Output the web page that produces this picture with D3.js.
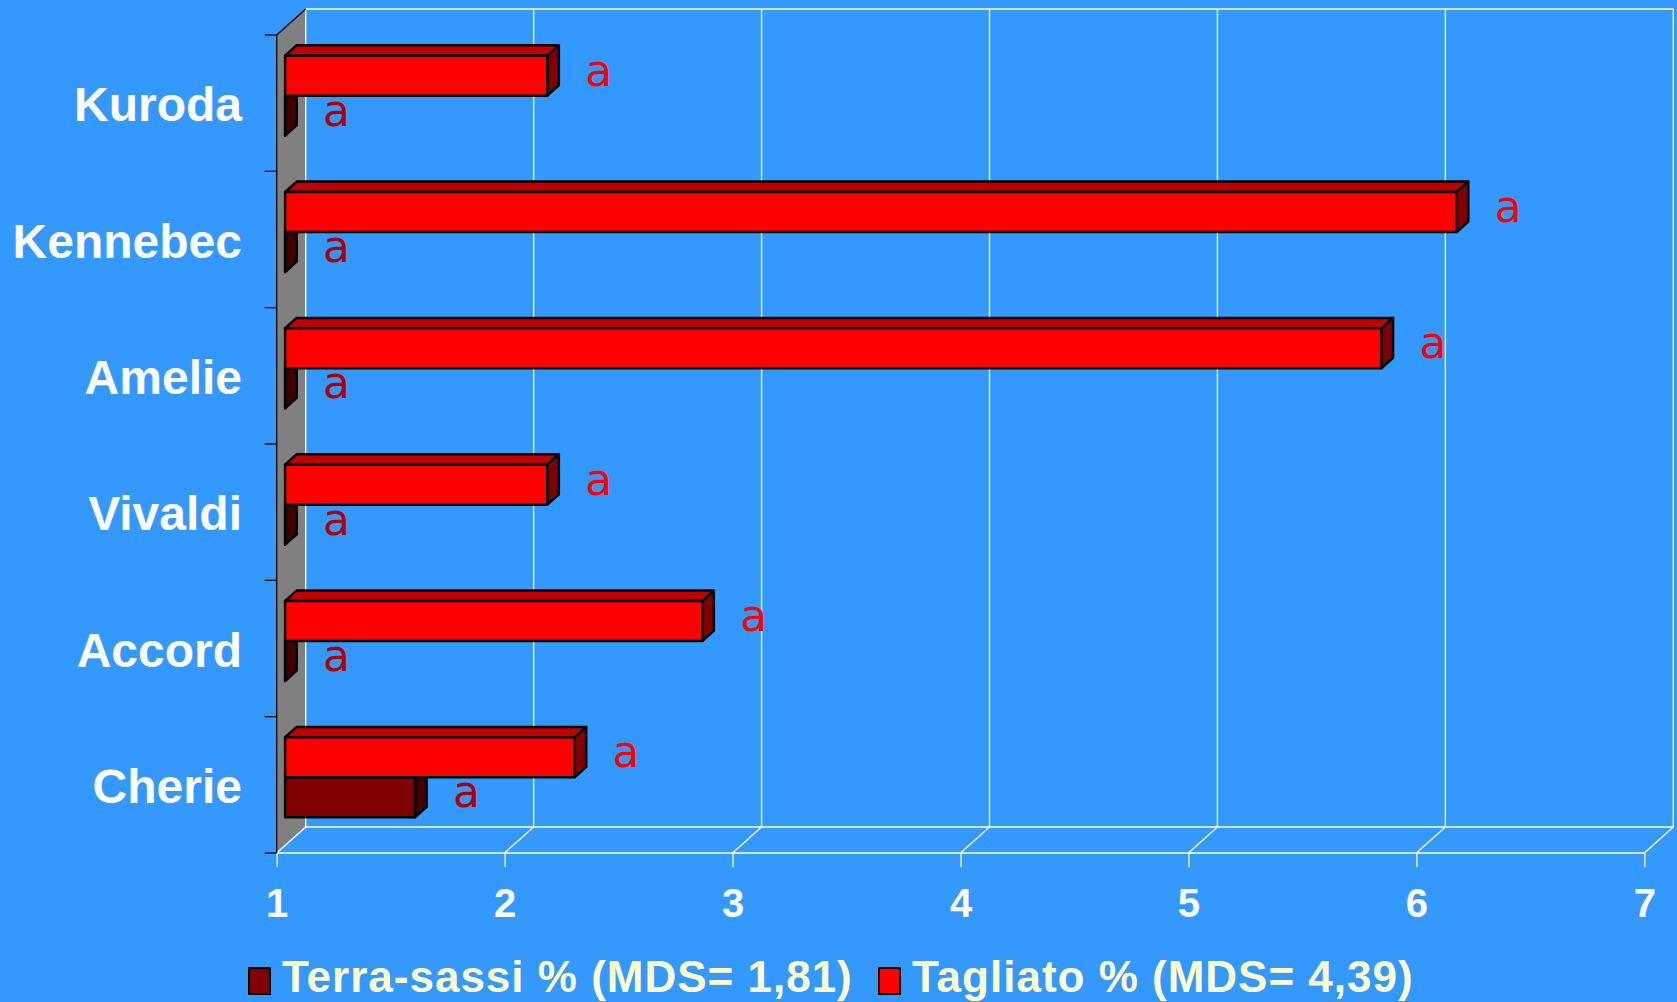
<!DOCTYPE html>
<html lang="it">
<head>
<meta charset="utf-8"/>
<title>Tagliato e Terra-sassi per varietà</title>
<script src="https://d3js.org/d3.v7.min.js"></script>
<style>
body { margin: 0; background: #3399FF; }
.catLabel { font-family: "Liberation Sans", Arial, sans-serif; font-weight: bold; font-size: 48px; fill: white; }
.tickLabel { font-family: "Liberation Sans", Arial, sans-serif; font-weight: bold; font-size: 40px; fill: white; }
.legendText { font-family: "Liberation Sans", Arial, sans-serif; font-weight: bold; font-size: 44px; fill: #FFFFCC; letter-spacing: 1px; }
.letter { font-family: "DejaVu Sans", sans-serif; font-size: 44px; }
.grid { stroke: white; stroke-width: 1.3; fill: none; }
.bar { stroke: black; stroke-width: 2.5; stroke-linejoin: round; }
</style>
</head>
<body>
<div id="chart"></div>
<script>
// chart values
var categories = ["Kuroda", "Kennebec", "Amelie", "Vivaldi", "Accord", "Cherie"];
var tagliato = [2.15, 6.14, 5.81, 2.15, 2.83, 2.27];
var terraSassi = [1.0, 1.0, 1.0, 1.0, 1.0, 1.57];
var tagliatoLetters = ["a", "a", "a", "a", "a", "a"];
var terraLetters = ["a", "a", "a", "a", "a", "a"];
var xTicks = [1, 2, 3, 4, 5, 6, 7];
var seriesNames = ["Terra-sassi % (MDS= 1,81)", "Tagliato % (MDS= 4,39)"];

var w = 1677;
var h = 1002;
// depth of the 3D box (front plane -> back wall)
var DX = 29, DY = -26;
// bars sit between these fractions of the depth
var f0 = 0.29, f1 = 0.69;

var svg = d3.select("#chart")
            .append("svg")
            .attr("width", w)
            .attr("height", h);

svg.append("rect")
   .attr("width", w)
   .attr("height", h)
   .attr("fill", "#3399FF");

var xScale = d3.scaleLinear()
               .domain([1, 7])
               .range([276.7, 1644.3]);

var yScale = d3.scaleBand()
               .domain(categories)
               .range([35, 853])
               .paddingInner(0.4132)
               .paddingOuter(0.2066);

var ySeries = d3.scaleBand()
                .domain(["tagliato", "terra"])
                .range([0, yScale.bandwidth()]);

var yTop = yScale.range()[0], yBot = yScale.range()[1];

// left wall
svg.append("polygon")
   .attr("points", [[xScale(1), yTop], [xScale(1) + DX, yTop + DY], [xScale(1) + DX, yBot + DY], [xScale(1), yBot]].join(" "))
   .attr("fill", "#808080");

// back wall gridlines
svg.selectAll(".vgrid")
   .data(xTicks)
   .enter()
   .append("line")
   .attr("class", "grid")
   .attr("x1", function(d){ return xScale(d) + DX; })
   .attr("x2", function(d){ return xScale(d) + DX; })
   .attr("y1", yTop + DY)
   .attr("y2", yBot + DY);

svg.append("line").attr("class", "grid")
   .attr("x1", xScale(1) + DX).attr("x2", xScale(7) + DX)
   .attr("y1", yTop + DY).attr("y2", yTop + DY);

// floor
svg.append("line").attr("class", "grid")
   .attr("x1", xScale(1) + DX).attr("x2", xScale(7) + DX)
   .attr("y1", yBot + DY).attr("y2", yBot + DY);
svg.append("line").attr("class", "grid")
   .attr("x1", xScale(1)).attr("x2", xScale(7))
   .attr("y1", yBot).attr("y2", yBot);
svg.selectAll(".fgrid")
   .data(xTicks)
   .enter()
   .append("line")
   .attr("class", "grid")
   .attr("x1", function(d){ return xScale(d); })
   .attr("x2", function(d){ return xScale(d) + DX; })
   .attr("y1", yBot)
   .attr("y2", yBot + DY);

// x axis ticks and labels
var xAxis = d3.axisBottom(xScale)
              .tickValues(xTicks)
              .tickSize(14)
              .tickPadding(22)
              .tickFormat(d3.format("d"));

var gx = svg.append("g")
            .attr("transform", "translate(0," + yBot + ")")
            .call(xAxis);
gx.select(".domain").remove();
gx.selectAll(".tick line").attr("stroke", "white").attr("stroke-width", 1.3);
gx.selectAll(".tick text")
  .attr("class", "tickLabel")
  .attr("font-size", null)
  .attr("font-family", null)
  .attr("fill", null);

// category axis (front-left edge of the wall)
svg.append("line")
   .attr("x1", xScale(1)).attr("x2", xScale(1))
   .attr("y1", yTop).attr("y2", yBot)
   .attr("stroke", "black").attr("stroke-width", 1.3);
svg.append("line")
   .attr("x1", xScale(1)).attr("x2", xScale(1) + DX)
   .attr("y1", yTop).attr("y2", yTop + DY)
   .attr("stroke", "black").attr("stroke-width", 1.3);

var catEdges = categories.map(function(c){ return yScale(c) - yScale.step() * yScale.paddingInner() / 2; });
catEdges.push(yBot);
svg.selectAll(".ctick")
   .data(catEdges)
   .enter()
   .append("line")
   .attr("x1", xScale(1) - 12)
   .attr("x2", xScale(1))
   .attr("y1", function(d){ return d; })
   .attr("y2", function(d){ return d; })
   .attr("stroke", "black")
   .attr("stroke-width", 1.3);

svg.selectAll(".catLabel")
   .data(categories)
   .enter()
   .append("text")
   .attr("class", "catLabel")
   .attr("text-anchor", "end")
   .attr("x", 242)
   .attr("y", function(d){ return yScale(d) + yScale.bandwidth() / 2 + 18; })
   .text(function(d){ return d; });

// 3D bars
function drawBar(g, v, yt, yb, cFront, cTop, cSide) {
   var xa = xScale(1), xb = xScale(Math.max(v, 1));
   var ax = DX * f0, ay = DY * f0, bx = DX * f1, by = DY * f1;
   g.append("polygon").attr("class", "bar").attr("fill", cTop)
    .attr("points", [[xa + ax, yt + ay], [xb + ax, yt + ay], [xb + bx, yt + by], [xa + bx, yt + by]].join(" "));
   g.append("polygon").attr("class", "bar").attr("fill", cSide)
    .attr("points", [[xb + ax, yt + ay], [xb + bx, yt + by], [xb + bx, yb + by], [xb + ax, yb + ay]].join(" "));
   g.append("polygon").attr("class", "bar").attr("fill", cFront)
    .attr("points", [[xa + ax, yt + ay], [xb + ax, yt + ay], [xb + ax, yb + ay], [xa + ax, yb + ay]].join(" "));
}

var bars = svg.append("g");
categories.forEach(function(c, i){
   var y0 = yScale(c);
   var tT = y0 + ySeries("terra"), tB = tT + ySeries.bandwidth();
   drawBar(bars, terraSassi[i], tT, tB, "#800000", "#600000", "#400000");
   var rT = y0 + ySeries("tagliato"), rB = rT + ySeries.bandwidth();
   drawBar(bars, tagliato[i], rT, rB, "#FF0000", "#C00000", "#800000");
});

// letters next to bars
var ax0 = DX * f0, ay0 = DY * f0;
svg.selectAll(".tLetter")
   .data(categories)
   .enter()
   .append("text")
   .attr("class", "letter")
   .attr("fill", "#FF0000")
   .attr("x", function(d, i){ return xScale(tagliato[i]) + ax0 + 38; })
   .attr("y", function(d){ return yScale(d) + ySeries("tagliato") + ySeries.bandwidth() / 2 + ay0 + 10; })
   .text(function(d, i){ return tagliatoLetters[i]; });

svg.selectAll(".sLetter")
   .data(categories)
   .enter()
   .append("text")
   .attr("class", "letter")
   .attr("fill", "#B00000")
   .attr("x", function(d, i){ return xScale(Math.max(terraSassi[i], 1)) + ax0 + 38; })
   .attr("y", function(d){ return yScale(d) + ySeries("terra") + ySeries.bandwidth() / 2 + ay0 + 10; })
   .text(function(d, i){ return terraLetters[i]; });

// legend
var legendX = [249, 879];
var legendColors = ["#800000", "#FF0000"];
var legend = svg.selectAll(".legendItem")
   .data(seriesNames)
   .enter()
   .append("g")
   .attr("transform", function(d, i){ return "translate(" + legendX[i] + ",0)"; });

legend.append("rect")
   .attr("x", 0)
   .attr("y", 968)
   .attr("width", 21)
   .attr("height", 26)
   .attr("fill", function(d, i){ return legendColors[i]; })
   .attr("stroke", "black")
   .attr("stroke-width", 2);

legend.append("text")
   .attr("class", "legendText")
   .attr("x", 33)
   .attr("y", 992)
   .text(function(d){ return d; });
</script>
</body>
</html>
